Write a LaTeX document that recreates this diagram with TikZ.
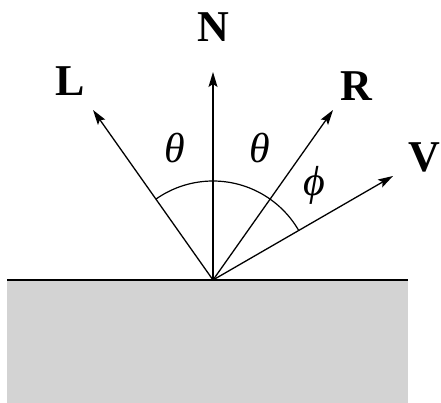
\documentclass[tikz,border=0pt]{standalone}
\usepackage{fontspec}
\setmainfont{Liberation Serif}
\usetikzlibrary{arrows.meta}
\begin{document}
\begin{tikzpicture}[x=1pt,y=-1pt,
  vec/.style={line width=1.3pt,-{Stealth[length=15pt,width=9pt,inset=3pt]}},
  lbl/.style={inner sep=0pt,font=\fontsize{44}{44}\selectfont\bfseries},
  ang/.style={inner sep=0pt,font=\fontsize{42}{42}\selectfont\itshape}]
\useasboundingbox (0,0) rectangle (441,403);
\fill[fill={rgb,255:red,211;green,211;blue,211}] (7,280) rectangle (408,403);
\coordinate (O) at (213,280);
\coordinate (Ntip) at (213,72);
\coordinate (Ltip) at (93,110);
\coordinate (Rtip) at (333,110);
\coordinate (Vtip) at (393,176);
\coordinate (SL) at (7,280);
\coordinate (SR) at (408,280);
\draw[line width=2.6pt] (SL) -- (SR);
\draw[vec] (O) -- (Ntip);
\draw[vec] (O) -- (Ltip);
\draw[vec] (O) -- (Rtip);
\draw[vec] (O) -- (Vtip);
\draw[line width=1.2pt] (O) ++(-125.2:99) arc[start angle=-125.2, end angle=-30, radius=99];
\node[lbl] (N) at (213,27) {N};
\node[lbl] (L) at (70,81) {L};
\node[lbl] (R) at (356,86) {R};
\node[lbl] (V) at (424,157) {V};
\node[ang] (t1) at (175,148) {θ};
\node[ang] (t2) at (260,148) {θ};
\node[ang] (ph) at (314,185) {ϕ};
\end{tikzpicture}
\end{document}
